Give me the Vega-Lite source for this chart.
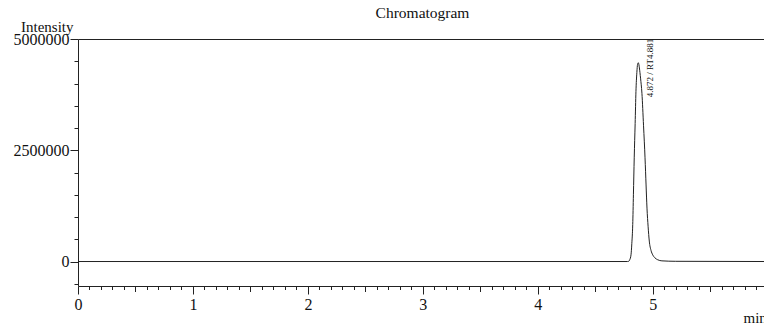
{
  "$schema": "https://vega.github.io/schema/vega-lite/v6.json",
  "autosize": {"type": "none"},
  "padding": {"left": 78, "top": 39, "right": 0, "bottom": 41},
  "width": 686,
  "height": 247,
  "background": "white",
  "title": {"text": "Chromatogram", "font": "Liberation Serif", "fontSize": 15.5, "fontWeight": "normal", "color": "#111", "frame": "group", "anchor": "middle", "baseline": "alphabetic", "offset": -14.5, "dx": 1.5},
  "config": {
    "view": {"stroke": null},
    "axis": {"grid": false, "domainColor": "#222", "tickColor": "#222", "labelColor": "#111", "titleColor": "#111", "labelFont": "Liberation Serif", "titleFont": "Liberation Serif", "labelFontSize": 16, "titleFontSize": 15, "titleFontWeight": "normal", "domainWidth": 1, "tickWidth": 1, "labelOverlap": false, "labelFlush": false, "labelBound": false}
  },
  "resolve": {"axis": {"x": "independent", "y": "independent"}},
  "layer": [
    {
      "data": {"values": [
        {"t": 0, "v": 0},
        {"t": 4.78, "v": 0},
        {"t": 4.791, "v": 5000},
        {"t": 4.8, "v": 40000},
        {"t": 4.811, "v": 150000},
        {"t": 4.818, "v": 400000},
        {"t": 4.826, "v": 830000},
        {"t": 4.832, "v": 1500000},
        {"t": 4.839, "v": 2330000},
        {"t": 4.847, "v": 3100000},
        {"t": 4.854, "v": 3820000},
        {"t": 4.862, "v": 4250000},
        {"t": 4.868, "v": 4430000},
        {"t": 4.874, "v": 4467000},
        {"t": 4.88, "v": 4420000},
        {"t": 4.884, "v": 4350000},
        {"t": 4.894, "v": 4120000},
        {"t": 4.906, "v": 3780000},
        {"t": 4.92, "v": 3050000},
        {"t": 4.933, "v": 2330000},
        {"t": 4.942, "v": 1720000},
        {"t": 4.95, "v": 1200000},
        {"t": 4.96, "v": 780000},
        {"t": 4.97, "v": 460000},
        {"t": 4.985, "v": 250000},
        {"t": 5.0, "v": 150000},
        {"t": 5.02, "v": 80000},
        {"t": 5.043, "v": 40000},
        {"t": 5.08, "v": 15000},
        {"t": 5.2, "v": 5000},
        {"t": 5.968, "v": 0}
      ]},
      "mark": {"type": "line", "color": "#222", "strokeWidth": 1, "interpolate": "monotone", "clip": true},
      "encoding": {
        "x": {"field": "t", "type": "quantitative",
          "scale": {"domain": [0, 5.968], "nice": false, "zero": false},
          "axis": {"orient": "bottom", "title": "min", "titleAlign": "left", "titleAnchor": "start", "titleBaseline": "alphabetic", "titleX": 665, "titleY": 36.5,
            "values": [0,0.1,0.2,0.3,0.4,0.5,0.6,0.7,0.8,0.9,1,1.1,1.2,1.3,1.4,1.5,1.6,1.7,1.8,1.9,2,2.1,2.2,2.3,2.4,2.5,2.6,2.7,2.8,2.9,3,3.1,3.2,3.3,3.4,3.5,3.6,3.7,3.8,3.9,4,4.1,4.2,4.3,4.4,4.5,4.6,4.7,4.8,4.9,5,5.1,5.2,5.3,5.4,5.5,5.6,5.7,5.8,5.9],
            "labelExpr": "abs(datum.value - round(datum.value)) < 0.001 ? format(datum.value, 'd') : ''",
            "tickSize": {"condition": [{"test": "abs(datum.value - round(datum.value)) < 0.001", "value": 8}, {"test": "abs(datum.value*2 - round(datum.value*2)) < 0.001", "value": 5.5}], "value": 3.5},
            "labelPadding": 2}},
        "y": {"field": "v", "type": "quantitative",
          "scale": {"domain": [-550000, 5000000], "nice": false, "zero": false},
          "axis": {"orient": "left", "title": "Intensity", "titleAngle": 0, "titleAlign": "right", "titleBaseline": "alphabetic", "titleX": -5, "titleY": -8,
            "values": [-500000,0,500000,1000000,1500000,2000000,2500000,3000000,3500000,4000000,4500000,5000000],
            "labelExpr": "datum.value % 2500000 === 0 ? format(datum.value, 'd') : ''",
            "tickSize": {"condition": {"test": "datum.value % 2500000 === 0", "value": 8}, "value": 4},
            "labelPadding": 1}}
      }
    },
    {
      "data": {"values": [{"t": 4.977, "v": 3690000, "label": "4.872 / RT4.881"}]},
      "mark": {"type": "text", "angle": 270, "align": "left", "baseline": "middle", "font": "Liberation Serif", "fontSize": 9, "color": "#111"},
      "encoding": {
        "x": {"field": "t", "type": "quantitative", "axis": {"orient": "top", "ticks": false, "labels": false, "domain": true, "title": null}},
        "y": {"field": "v", "type": "quantitative", "axis": null},
        "text": {"field": "label"}
      }
    }
  ]
}
